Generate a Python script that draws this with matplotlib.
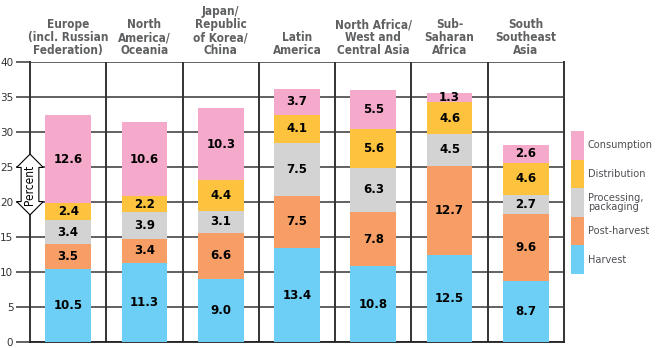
import matplotlib.pyplot as plt
import numpy as np

regions = ["Europe\n(incl. Russian\nFederation)", "North\nAmerica/\nOceania",
           "Japan/\nRepublic\nof Korea/\nChina", "Latin\nAmerica",
           "North Africa/\nWest and\nCentral Asia", "Sub-\nSaharan\nAfrica",
           "South\nSoutheast\nAsia"]
stages = ["Harvest", "Post-harvest", "Processing,\npackaging", "Distribution", "Consumption"]
harvest = [10.5, 11.3, 9.0, 13.4, 10.8, 12.5, 8.7]
post_harvest = [3.5, 3.4, 6.6, 7.5, 7.8, 12.7, 9.6]
processing = [3.4, 3.9, 3.1, 7.5, 6.3, 4.5, 2.7]
distribution = [2.4, 2.2, 4.4, 4.1, 5.6, 4.6, 4.6]
consumption = [12.6, 10.6, 10.3, 3.7, 5.5, 1.3, 2.6]
colors = ["#6dcff6", "#f79d66", "#d4d3d3", "#fdc33f", "#f5aacb"]

fig = plt.figure(figsize=(6.58, 3.48), dpi=100)
ax = fig.add_axes([30/658, 6/348, 534/658, 280/348])

x = np.arange(len(regions))
bottom = np.zeros(len(regions))
for vals, c in zip([harvest, post_harvest, processing, distribution, consumption], colors):
    vals = np.array(vals)
    ax.bar(x, vals, 0.6, bottom=bottom, color=c, zorder=3)
    for xi, b, v in zip(x, bottom, vals):
        ax.text(xi, b + v/2, f"{v:.1f}", ha="center", va="center", fontsize=8.5,
                fontweight="bold", color="black", zorder=4)
    bottom += vals

ax.set_xlim(-0.5, 6.5)
ax.set_ylim(0, 40)
ax.set_yticks(range(0, 41, 5))
ax.set_xticks([])
ax.tick_params(axis="y", length=10, width=1.3, color="#555555", labelsize=7.5,
               labelcolor="#333333", pad=2)
ax.grid(axis="y", color="#555555", linewidth=1.3, zorder=1)
for s in ["left", "right"]:
    ax.spines[s].set_color("#333333")
    ax.spines[s].set_linewidth(1.4)
ax.spines["top"].set_visible(False)
ax.spines["bottom"].set_color("#222222")
ax.spines["bottom"].set_linewidth(1.3)
for xi in x[:-1]:
    ax.axvline(xi + 0.5, color="#333333", linewidth=1.4, zorder=2)

for xi, r in zip(x, regions):
    ax.text(xi, 40.7, r, ha="center", va="bottom", fontsize=8.5, fontweight="bold",
            color="#5f6062", fontstretch="condensed", linespacing=1.0)

ax.text(-0.5, 22.4, "Percent", rotation=90, ha="center", va="center", fontsize=8.5,
        color="black", fontstretch="condensed", zorder=5,
        bbox=dict(boxstyle="darrow,pad=0.2", fc="white", ec="black", lw=0.8))

# legend
lax = fig.add_axes([571/658, 74/348, 13/658, 143/348])
lax.bar(np.zeros(5), np.ones(5), 1, bottom=np.arange(5), color=colors)
lax.set_xlim(-0.5, 0.5)
lax.set_ylim(0, 5)
lax.axis("off")
for i, s in enumerate(stages):
    lax.text(0.8, i + 0.5, s, ha="left", va="center", fontsize=7.8, color="#4d4f53",
             fontstretch="condensed", linespacing=0.95)

fig.savefig("out.png", dpi=100)
